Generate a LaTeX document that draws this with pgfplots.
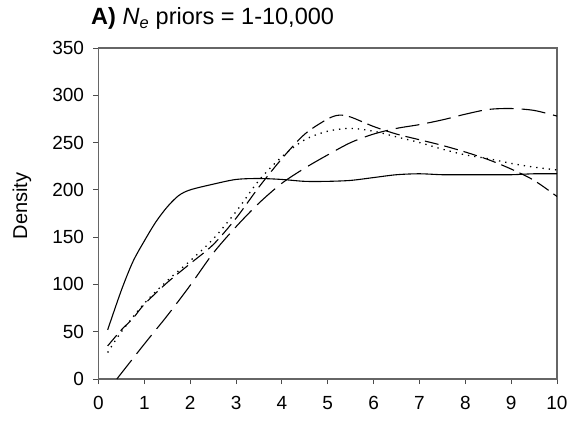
\documentclass[border=0pt]{standalone}
\usepackage{pgfplots}
\pgfplotsset{compat=1.18}
\usepackage{fontspec}
\setmainfont{Liberation Sans}
\begin{document}
\begin{tikzpicture}
\useasboundingbox (-98.5pt,-42pt) rectangle (472.5pt,379pt);
\begin{axis}[
  at={(0,0)}, anchor=south west,
  scale only axis, width=458.5pt, height=331pt,
  xmin=0, xmax=10, ymin=0, ymax=350,
  xtick={0,1,...,10}, ytick={0,50,...,350},
  xtick pos=left, ytick pos=left,
  tick align=outside, major tick length=5pt,
  tick style={black!70, line width=1pt},
  axis line style={black!60, line width=1.2pt},
  /pgf/number format/assume math mode=true,
  /pgf/number format/1000 sep={},
  ticklabel style={font=\fontsize{19}{21}\selectfont},
  yticklabel style={xshift=-6pt},
  xticklabel style={yshift=-9pt},
  clip=true,
]
% solid
\addplot[black, line width=1.1pt, smooth, tension=0.5] coordinates {
(0.2,52) (0.5,94) (0.75,124) (1,146) (1.25,166) (1.5,182) (1.75,194) (2,200) (2.5,206) (3,211) (3.5,212) (4,211) (4.5,209) (5,209) (5.5,210) (6,213) (6.5,216) (7,217) (7.5,216) (8,216) (8.5,216) (9,216) (9.5,217) (10,217)};
% long dash
\addplot[black, line width=1.1pt, smooth, tension=0.5, dash pattern=on 24pt off 8pt] coordinates {
(0.4,0) (1,37) (1.5,67) (2,99) (2.5,133) (3,161) (3.5,186) (4,207) (4.5,223) (5,237) (5.5,250) (6,259) (6.5,265) (7,269) (7.5,274) (8,280) (8.5,285) (9,286) (9.5,284) (10,278)};
% medium dash
\addplot[black, line width=1.1pt, smooth, tension=0.5, dash pattern=on 14pt off 6pt] coordinates {
(0.2,35) (0.5,52) (0.75,64) (1,79) (1.5,102) (2,122) (2.5,142) (3,170) (3.5,203) (4,233) (4.5,259) (5,275) (5.25,279) (5.5,277) (6,267) (6.5,259) (7,253) (7.5,247) (8,240) (8.5,232) (9,222) (9.5,210) (10,193)};
% dotted
\addplot[black, line width=1.3pt, smooth, tension=0.5, dash pattern=on 1.3pt off 5pt] coordinates {
(0.2,28) (0.5,50) (1,80) (1.5,104) (2,125) (2.5,148) (3,177) (3.5,210) (4,235) (4.5,253) (5,262) (5.5,265) (6,262) (6.5,256) (7,250) (7.5,243) (8,237) (8.5,233) (9,228) (9.5,224) (10,221)};
\end{axis}
\node[anchor=base west, inner sep=0pt, font=\fontsize{23.5}{26}\selectfont] at (-7.5pt,354pt) {\textbf{A)} \textit{N}\textsubscript{\textit{e}} priors = 1-10,000};
\node[anchor=center, inner sep=0pt, rotate=90, font=\fontsize{20}{22}\selectfont] at (-76.5pt,173pt) {Density};
\end{tikzpicture}
\end{document}
